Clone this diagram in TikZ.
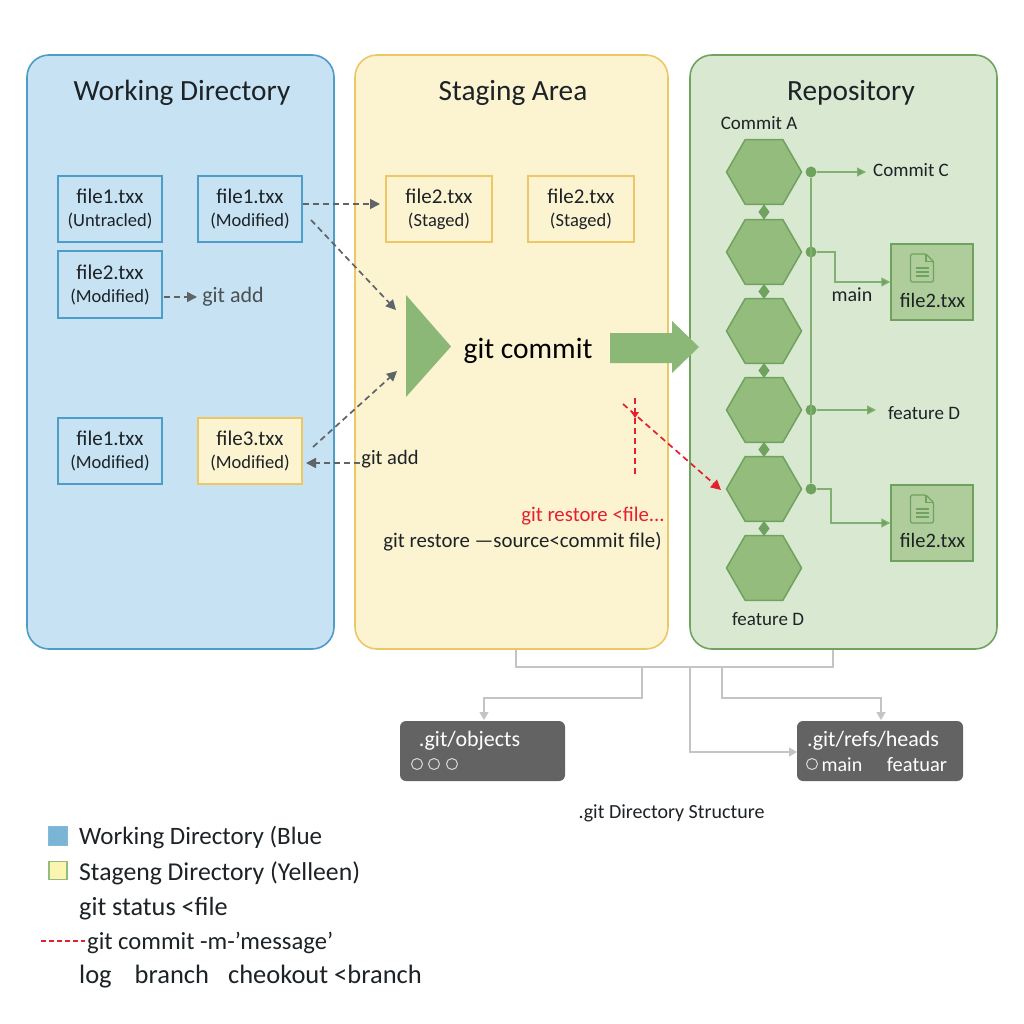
\documentclass[tikz,border=0pt]{standalone}
\usepackage{fontspec}
\setmainfont{Carlito}
\usetikzlibrary{arrows.meta,shapes.geometric,calc}
\definecolor{bluefill}{HTML}{C6E2F3}
\definecolor{blueline}{HTML}{4E9CC8}
\definecolor{yelfill}{HTML}{FCF3D0}
\definecolor{yelline}{HTML}{EDC766}
\definecolor{grnfill}{HTML}{D9E8D0}
\definecolor{grnline}{HTML}{6FA35F}
\definecolor{hexfill}{HTML}{94BD7D}
\definecolor{hexline}{HTML}{6FA15F}
\definecolor{bigarrow}{HTML}{8BB876}
\definecolor{thinline}{HTML}{82B070}
\definecolor{filegrn}{HTML}{AFCD9B}
\definecolor{dashgray}{HTML}{5F6468}
\definecolor{myred}{HTML}{E5202E}
\definecolor{txt}{HTML}{1C2226}
\definecolor{darkbox}{HTML}{636363}
\definecolor{conn}{HTML}{C4C4C4}
\newcommand{\fs}[1]{\fontsize{#1}{23}\selectfont}
\tikzset{
 panel/.style={draw,line width=1.6pt,rounded corners=22pt,inner sep=0pt,minimum width=#1,minimum height=594pt},
 title/.style={font=\fs{29.3},text=txt,inner sep=0pt},
 filebox/.style={draw,line width=1.5pt,minimum width=104pt,minimum height=66pt,inner sep=0pt,align=center,text=txt,font=\fs{21}},
 bluebox/.style={filebox,draw=blueline,fill=bluefill},
 yelbox/.style={filebox,draw=yelline,fill=yelfill},
 hex/.style={regular polygon,regular polygon sides=6,minimum size=75pt,inner sep=0pt,draw=hexline,fill=hexfill,line width=1.5pt},
 diam/.style={diamond,fill=hexline,minimum width=12pt,minimum height=16pt,inner sep=0pt},
 hexlink/.style={draw=hexline,line width=2pt},
 dot/.style={circle,fill=hexline,minimum size=11pt,inner sep=0pt},
 grnarrow/.style={draw=thinline,line width=1.2pt,-{Triangle[length=9pt,width=9pt,fill=hexline]}},
 grnfile/.style={draw=hexline,fill=filegrn,line width=1.5pt,minimum width=82pt,minimum height=76pt,inner sep=0pt},
 lab/.style={font=\fs{19},text=txt,inner sep=0pt},
 gdash/.style={draw=dashgray,line width=1.7pt,dash pattern=on 6pt off 4pt,-{Triangle[length=10pt,width=10pt]}},
 rdash/.style={draw=myred,line width=1.7pt,dash pattern=on 6pt off 4pt},
 gline/.style={draw=conn,line width=1.3pt},
 garrow/.style={gline,-{Triangle[length=8pt,width=9pt,fill=conn]}},
 dbox/.style={fill=darkbox,rounded corners=6pt,minimum height=60pt,inner sep=0pt},
 dtext/.style={font=\fs{22},text=white,inner sep=0pt},
 dcirc/.style={circle,draw=white!85!black,line width=1pt,minimum size=11pt,inner sep=0pt},
 legend/.style={font=\fs{25},text=txt,inner sep=0pt,anchor=west},
 docicon/.pic={
  \draw[hexline,line width=1.3pt,rounded corners=1.5pt] (-11.5,-14) -- (4,-14) -- (11.5,-6.5) -- (11.5,14) -- (-11.5,14) -- cycle;
  \draw[hexline,line width=1.3pt] (4,-14) -- (4,-6.5) -- (11.5,-6.5);
  \draw[hexline,line width=1.3pt] (-6.5,0) -- (6.5,0) (-6.5,4) -- (6.5,4) (-6.5,8) -- (6.5,8);
 }
}
\begin{document}
\begin{tikzpicture}[x=1pt,y=-1pt]
\useasboundingbox (0,0) rectangle (1024,1024);
\fill[white] (0,0) rectangle (1024,1024);
% panels
\node[panel=307pt,draw=blueline,fill=bluefill] (pblue) at (180.5,352) {};
\node[panel=313pt,draw=yelline,fill=yelfill] (pyel) at (511.5,352) {};
\node[panel=307pt,draw=grnline,fill=grnfill] (pgrn) at (843.5,352) {};
\node[title] (t1) at (182,93) {Working Directory};
\node[title] (t2) at (513,93) {Staging Area};
\node[title] (t3) at (851,93) {Repository};
% file boxes
\node[bluebox] (f1) at (110,209) {file1.txx\\{\fs{18.5}(Untracled)}};
\node[bluebox] (f2) at (250,209) {file1.txx\\{\fs{18.5}(Modified)}};
\node[bluebox,minimum height=67pt] (f3) at (110,284.5) {file2.txx\\{\fs{18.5}(Modified)}};
\node[bluebox] (f4) at (110,451) {file1.txx\\{\fs{18.5}(Modified)}};
\node[yelbox] (f5) at (250,451) {file3.txx\\{\fs{18.5}(Modified)}};
\node[yelbox,minimum width=106pt] (s1) at (439,209) {file2.txx\\{\fs{18.5}(Staged)}};
\node[yelbox,minimum width=106pt] (s2) at (581,209) {file2.txx\\{\fs{18.5}(Staged)}};
% git commit
\coordinate (tria) at (406,295);
\coordinate (trib) at (451,346.5);
\coordinate (tric) at (406,397);
\fill[bigarrow] (tria) -- (trib) -- (tric) -- cycle;
\node[font=\fs{29.5},text=black,inner sep=0pt] (gc) at (528,351) {git commit};
\coordinate (ba) at (610,333);
\fill[bigarrow] (ba) -- (672,333) -- (672,321) -- (699,347) -- (672,373) -- (672,363) -- (610,363) -- cycle;
% dashed
\coordinate (d1a) at (303,204); \coordinate (d1b) at (380,204);
\draw[gdash] (d1a) -- (d1b);
\coordinate (d2a) at (311,220); \coordinate (d2b) at (396,310);
\draw[gdash] (d2a) -- (d2b);
\coordinate (d3a) at (313,447); \coordinate (d3b) at (397,371);
\draw[gdash] (d3a) -- (d3b);
\coordinate (d4a) at (360,463); \coordinate (d4b) at (306,463);
\draw[gdash] (d4a) -- (d4b);
\coordinate (d5a) at (164,297); \coordinate (d5b) at (197,297);
\draw[gdash] (d5a) -- (d5b);
\node[font=\fs{22},text=dashgray!80!black,inner sep=0pt] (ga1) at (233,297) {git add};
\node[font=\fs{20.5},text=txt,inner sep=0pt] (ga2) at (390,459) {git add};
% red
\coordinate (r1a) at (635,398); \coordinate (r1b) at (635,477);
\draw[rdash] (r1a) -- (r1b);
\fill[myred] (631,412) -- (639,412) -- (635,418) -- cycle;
\coordinate (r2a) at (623,404); \coordinate (r2b) at (721,490);
\draw[rdash,-{Triangle[length=10pt,width=10pt]}] (r2a) -- (r2b);
\node[font=\fs{20.8},text=myred,inner sep=0pt] (rt) at (593,516) {git restore <file...};
\node[font=\fs{20.8},text=txt,inner sep=0pt] (bt) at (522.5,542) {git restore —source<commit file)};
% hexes
\foreach \n/\y in {h1/172,h2/252,h3/331,h4/410,h5/489,h6/568}
  \node[hex] (\n) at (764,\y) {};
\foreach \a/\b in {h1/h2,h2/h3,h3/h4,h4/h5,h5/h6}
  \path[hexlink] (\a) -- node[diam] (m\a) {} (\b);
\node[lab] (ca) at (759,123) {Commit A};
\node[lab] (fd) at (768,619) {feature D};
% branch dots
\foreach \n/\y in {b1/172,b2/252,b4/410,b5/489}
  \node[dot] (\n) at (811,\y) {};
\draw[draw=thinline,line width=1.2pt] (b1) -- (b5);
\node[lab] (cc) at (911,170) {Commit C};
\node[lab] (fd2) at (924,413) {feature D};
\node[lab,font=\fs{20}] (mn) at (852,295) {main};
\node[grnfile] (g1) at (932,282) {};
\node[grnfile] (g2) at (932,523) {};
\coordinate (e1) at (866,172);
\coordinate (e4) at (876,410);
\coordinate (k2) at (835,282);
\coordinate (k5) at (831,523);
\draw[grnarrow] (b1) -- (e1);
\draw[grnarrow] (b2) -| (k2) -- (g1.west);
\draw[grnarrow] (b4) -- (e4);
\draw[grnarrow] (b5) -| (k5) -- (g2.west);
\pic at (922,268) {docicon};
\pic at (922,509) {docicon};
\node[font=\fs{20.5},text=txt,inner sep=0pt] (g1t) at (932.5,300) {file2.txx};
\node[font=\fs{20.5},text=txt,inner sep=0pt] (g2t) at (932.5,540) {file2.txx};
% .git
\node[dbox,minimum width=165pt] (ob) at (482.5,751) {};
\node[dbox,minimum width=166pt] (rf) at (880,751) {};
\node[dtext] (obt) at (469.5,741) {.git/objects};
\node[dtext] (rft) at (873,741) {.git/refs/heads};
\node[dcirc] (c1) at (417,764) {};
\node[dcirc] (c2) at (434,764) {};
\node[dcirc] (c3) at (452,764) {};
\node[dcirc] (c4) at (812,764) {};
\node[dtext,font=\fs{20}] (mt) at (842,765) {main};
\node[dtext,font=\fs{20.5}] (ft) at (917,765) {featuar};
\coordinate (ya) at (516,650); \coordinate (yb) at (833,650);
\coordinate (ja) at (642,667); \coordinate (jb) at (690,667); \coordinate (jc) at (722,667);
\coordinate (oa) at (484,698); \coordinate (oe) at (484,720);
\coordinate (ra) at (881,698); \coordinate (re) at (881,720);
\coordinate (rw) at (797,752);
\draw[gline] (ya) |- (ja) -- (jb) -| (yb);
\draw[garrow] (ja) |- (oa) -- (oe);
\draw[garrow] (jc) |- (ra) -- (re);
\draw[garrow] (jb) |- (rw);
\node[font=\fs{20},text=txt,inner sep=0pt] (st) at (671.5,813) {.git Directory Structure};
% legend
\node[draw=blueline!70,fill=blueline!75!white,minimum size=19pt,inner sep=0pt] (l1) at (58,835.5) {};
\node[draw=hexfill,fill=yelfill!85!yellow,line width=1.3pt,minimum size=18pt,inner sep=0pt] (l2) at (58,870.5) {};
\node[legend] (lt1) at (79,838) {Working Directory (Blue};
\node[legend,font=\fs{25.7}] (lt2) at (79,873) {Stageng Directory (Yelleen)};
\node[legend,font=\fs{26.2}] (lt3) at (79,909) {git status <file};
\coordinate (lr) at (41,941);
\coordinate (lrb) at (85,941);
\draw[rdash,dash pattern=on 5pt off 3pt] (lr) -- (lrb);
\node[legend,font=\fs{24.6}] (lt4) at (87,943) {git commit -m-'message'};
\node[legend,font=\fs{26.5}] (lt5) at (79,977) {log\hspace{23pt}branch\hspace{19pt}cheokout <branch};
\end{tikzpicture}
\end{document}
